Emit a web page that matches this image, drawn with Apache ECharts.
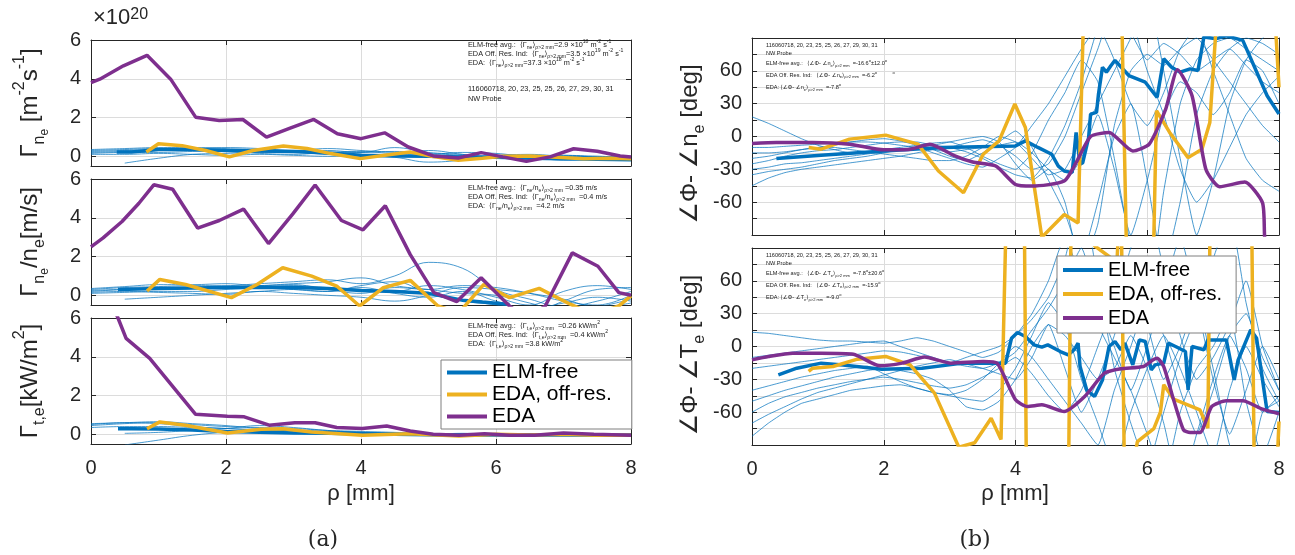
<!DOCTYPE html>
<html><head><meta charset="utf-8">
<script src="https://cdn.jsdelivr.net/npm/echarts@6/dist/echarts.min.js"></script>
<style>html,body{margin:0;padding:0;background:#fff}#c{width:1295px;height:555px}</style>
</head><body><div id="c"></div>
<script>
// ================= DATA =================
const rhoTicks = [0, 2, 4, 6, 8];
const fluxTicks = [0, 2, 4, 6];
const phaseTicks = [-90, -75, -60, -45, -30, -15, 0, 15, 30, 45, 60, 75, 90];
const legendNames = ['ELM-free', 'EDA, off-res.', 'EDA'];

// x grids for the individual (thin) shots
const rhoCoarse = [0,0.5,1,1.5,2,2.5,3,3.5,4,4.5,5,5.5,6,6.5,7,7.5,8];
const rhoFine = [0,0.25,0.5,0.75,1,1.25,1.5,1.75,2,2.25,2.5,2.75,3,3.25,3.5,3.75,4,4.25,4.5,4.75,5,5.25,5.5,5.75,6,6.25,6.5,6.75,7,7.25,7.5,7.75,8];

// ---- (a) top: Gamma_ne [x1e20 m^-2 s^-1]
const a1Thin = [
  [0.3,0.35,0.4,0.4,0.35,0.3,0.25,0.2,0.2,0.25,0.15,0.05,-0.05,-0.1,-0.05,0.0,-0.1],
  [0.25,0.3,0.35,0.4,0.45,0.4,0.3,0.3,0.2,0.45,0.2,0.1,0.0,0.05,-0.1,-0.15,-0.1],
  [0.15,0.2,0.2,0.25,0.3,0.35,0.25,0.15,0.1,0.05,0.0,-0.05,0.05,0.1,0.0,-0.05,-0.15],
  [null,-0.35,-0.1,0.1,0.15,0.2,0.2,0.1,0.05,-0.05,-0.3,-0.2,0.0,-0.05,-0.2,-0.1,0.0],
  [0.35,0.4,0.45,0.45,0.4,0.35,0.3,0.4,0.3,0.2,0.1,0.2,0.15,0.0,0.05,-0.05,-0.2],
  [0.2,0.25,0.3,0.3,0.25,0.15,0.1,0.2,0.25,0.15,0.3,0.1,-0.1,-0.05,0.05,0.0,-0.05],
  [0.1,0.1,0.15,0.1,0.05,0.1,0.05,0.0,0.05,0.1,0.05,0.0,-0.05,0.0,-0.1,-0.1,-0.05]
];
const a1ElmX = [0.38,0.6,0.62,1.0,1.5,2.0,2.5,3.0,3.5,4.0,4.5,5.0,5.5,6.0,6.5,7.0,7.5,8.0];
const a1ElmY = [0.22,0.22,0.32,0.35,0.35,0.3,0.28,0.25,0.17,0.05,0.02,0.0,-0.03,-0.05,-0.1,-0.12,-0.15,-0.18];
const a1OffX = [0.82,1.0,1.35,1.7,2.05,2.4,2.85,3.2,3.55,3.99,4.35,4.73,5.05,5.44,5.8,6.1,6.5,6.9,7.3,7.7,8.0];
const a1OffY = [0.22,0.65,0.55,0.3,-0.03,0.3,0.53,0.4,0.14,-0.12,0.05,0.22,0.0,-0.2,-0.1,0.0,0.02,-0.05,-0.12,-0.1,-0.12];
const a1EdaX = [0,0.13,0.48,0.83,1.18,1.55,1.9,2.25,2.6,2.95,3.3,3.65,4.0,4.35,4.7,5.07,5.44,5.78,6.1,6.45,6.8,7.15,7.5,7.84,8.0];
const a1EdaY = [3.8,3.98,4.67,5.21,3.98,2.02,1.85,1.9,0.99,1.45,1.9,1.16,0.91,1.21,0.48,0.02,-0.09,0.19,-0.03,-0.26,-0.03,0.39,0.26,0.02,-0.03];

// ---- (a) middle: Gamma_ne/n_e [m/s]
const a2Thin = [
  [0.3,0.4,0.45,0.5,0.5,0.6,0.7,0.8,0.6,1.0,1.7,1.4,0.3,-0.2,-0.6,-0.3,0.2],
  [0.2,0.3,0.35,0.4,0.45,0.5,0.6,0.7,0.9,0.5,0.3,0.1,0.0,-0.4,-0.8,-0.6,-0.2],
  [0.1,0.15,0.2,0.2,0.3,0.4,0.5,0.4,0.3,0.2,0.5,0.3,-0.1,-0.5,0.2,0.5,0.3],
  [null,-0.2,-0.1,0.0,0.1,0.2,0.3,0.2,0.4,0.1,-0.1,0.2,-0.3,-0.7,-0.4,-0.1,-0.3],
  [0.35,0.45,0.55,0.55,0.6,0.5,0.55,0.3,0.1,0.4,0.3,0.5,0.4,0.1,-0.3,-0.5,0.0],
  [0.25,0.3,0.3,0.35,0.4,0.45,0.3,0.2,0.5,0.7,0.1,-0.3,-0.5,-0.9,-0.3,0.3,0.4],
  [0.15,0.2,0.15,0.1,0.05,0.2,0.1,0.0,-0.1,-0.3,0.0,0.4,0.3,0.1,-0.2,-0.6,-0.4]
];
const a2ElmX = [0.4,1,1.5,2,2.5,3,3.5,4,4.5,5,5.5,5.8,6.2];
const a2ElmY = [0.3,0.35,0.38,0.4,0.42,0.4,0.35,0.25,0.2,0.1,-0.25,-0.35,-0.48];
const a2OffX = [0.83,1.02,1.4,2.08,2.46,2.84,3.27,3.64,3.98,4.33,4.73,5.14,5.45,5.82,6.2,6.64,7.1,7.45,7.82,8.0];
const a2OffY = [0.22,0.82,0.56,-0.12,0.56,1.42,0.99,0.48,-0.55,0.39,0.77,-0.55,-0.9,0.56,-0.12,0.36,-0.46,-1.0,-0.55,-0.03];
const a2EdaX = [0,0.18,0.46,0.71,0.93,1.21,1.58,1.9,2.26,2.63,2.99,3.32,3.71,4.03,4.36,4.73,5.08,5.42,5.78,6.2,6.45,6.73,7.13,7.51,7.82,8.0];
const a2EdaY = [2.5,2.96,3.81,4.75,5.7,5.47,3.47,3.86,4.45,2.67,4.2,5.69,3.86,3.38,4.62,2.1,0.14,-0.32,0.91,-0.55,-1.2,-0.55,2.19,1.5,0.14,0.0];

// ---- (a) bottom: Gamma_te [kW/m^2]
const a3Thin = [
  [0.45,0.55,0.6,0.5,0.4,0.35,0.3,0.2,0.15,0.1,0.05,0.0,0.0,-0.05,0.0,0.0,-0.05],
  [0.5,0.6,0.55,0.4,0.3,0.25,0.2,0.1,0.05,0.05,0.0,0.0,-0.05,0.0,0.0,-0.05,0.0],
  [null,0.05,0.1,0.2,0.3,0.45,0.35,0.2,0.1,0.05,0.0,-0.05,0.0,0.0,-0.05,0.0,0.0],
  [null,-0.55,-0.3,-0.05,0.1,0.15,0.2,0.15,0.1,0.0,-0.05,0.0,0.0,0.0,-0.05,-0.05,0.0],
  [0.35,0.4,0.4,0.35,0.3,0.2,0.15,0.1,0.05,0.0,0.0,0.05,0.0,-0.05,0.0,0.0,0.0],
  [0.55,0.6,0.65,0.55,0.45,0.3,0.2,0.15,0.1,0.05,0.0,0.0,0.0,0.0,0.0,-0.05,-0.05]
];
const a3ElmX = [0.4,0.6,1.0,1.5,2.0,2.5,3.0,3.5,4.0,4.5,5.0,5.5,6.0,6.5,7.0,7.5,8.0];
const a3ElmY = [0.29,0.29,0.28,0.22,0.15,0.1,0.07,0.05,0.03,0.0,-0.02,-0.03,-0.03,-0.02,-0.03,-0.03,-0.03];
const a3OffX = [0.83,1.02,1.4,2.02,2.52,2.84,3.27,4.02,4.73,5.45,6.0,6.5,7.0,7.5,8.0];
const a3OffY = [0.29,0.64,0.47,0.07,0.26,0.29,0.12,-0.05,0.03,-0.09,0.0,-0.03,0.0,-0.05,-0.05];
const a3EdaX = [0.2,0.4,0.52,0.87,1.55,2.02,2.27,2.64,3.02,3.32,3.64,4.02,4.38,4.73,5.07,5.45,5.83,6.2,6.57,7.0,7.45,8.0];
const a3EdaY = [7.5,6.0,4.95,3.92,1.03,0.93,0.9,0.47,0.6,0.6,0.35,0.3,0.43,0.17,0.0,-0.05,0.03,-0.05,-0.05,0.07,0.0,-0.05];

// ---- (b) top: phase(Phi) - phase(n_e) [deg]
const b1Thin = [
  [-45,-38,-33,-30,-28,-26,-24,-22,-20,-18,-15,-12,-10,-6,-3,-8,-18,-30,-25,0,40,80,120,95,70,85,75,60,70,80,65,50,40],
  [-30,-28,-25,-24,-22,-20,-18,-16,-14,-12,-10,-8,-5,-2,0,-5,-25,-40,-30,-60,-120,-80,10,60,75,65,80,90,70,50,30,10,-5],
  [-25,-22,-18,-15,-13,-12,-10,-8,-6,-5,-5,-8,-10,-14,-20,-28,-35,-38,-20,10,50,100,140,110,60,20,-30,-60,-40,-10,20,40,55],
  [18,12,5,-2,-8,-12,-15,-15,-12,-10,-8,-6,-5,-10,-18,-25,-30,-15,15,40,70,50,-20,-100,-150,-50,30,70,85,90,80,70,60],
  [-15,-15,-14,-12,-10,-8,-5,-3,-2,-4,-8,-12,-18,-22,-15,-5,5,-10,-40,-70,-110,-60,0,30,-40,-120,-60,20,60,80,90,85,75],
  [-35,-32,-30,-28,-25,-22,-20,-18,-15,-12,-10,-15,-20,-25,-28,-20,-10,10,30,55,80,100,70,30,10,40,80,100,60,20,-20,-40,-50],
  [-20,-18,-15,-12,-10,-10,-12,-14,-16,-18,-20,-22,-22,-18,-10,0,-5,-20,-35,-30,0,30,60,90,130,60,-20,-90,-40,30,70,90,100],
  [-10,-10,-9,-8,-7,-6,-5,-5,-6,-8,-10,-12,-14,-12,-10,-8,-5,-15,-30,-40,-20,20,-30,-90,-40,20,50,40,20,40,70,60,30]
];
const b1ElmX = [0.37,1.05,2.0,2.89,4.0,4.15,4.34,4.55,4.65,4.74,4.86,4.92,4.98,5.02,5.11,5.14,5.23,5.26,5.32,5.38,5.45,5.51,5.72,5.97,6.15,6.25,6.37,6.5,6.65,6.77,6.86,7.05,7.2,7.45,7.82,8.0];
const b1ElmY = [-20.2,-17.1,-13.2,-10,-8.6,-4,-10,-16.2,-27,-31.5,-33,3.7,-25.4,-24,-1,20.5,22,38.9,63.3,58.8,64.9,69.5,55.7,49.6,35.8,71,63.3,58.8,61.8,60.3,91,89.4,92,87.8,37.3,20.5];
const b1OffX = [0.86,1.05,1.48,2.03,2.52,2.83,3.21,3.51,3.75,3.99,4.15,4.4,4.74,4.95,5.05,5.6,5.7,6.08,6.14,6.34,6.62,6.83,6.95,7.1,7.9,8.0];
const b1OffY = [-10,-11.6,-2.4,1.2,-7,-31.5,-51.4,-16.2,-4,29.7,8.3,-92,-71.3,-79,150,150,-150,-150,23.6,3.7,-19.3,-11.6,12.9,150,150,45];
const b1EdaX = [0,0.37,0.92,1.48,2.0,2.4,2.7,3.08,3.35,3.7,4.0,4.25,4.74,4.92,5.14,5.42,5.78,6.03,6.28,6.46,6.68,6.89,7.1,7.48,7.75,7.78,7.82];
const b1EdaY = [-6.4,-5.5,-5.5,-7,-12.2,-11.6,-7,-17.7,-23.3,-27,-43.8,-45.3,-40.7,-23.9,0,3.7,-13.2,-7,25.1,60.9,37.3,-30,-45.9,-41.6,-60.6,-89.7,-130];

// ---- (b) bottom: phase(Phi) - phase(T_e) [deg]
const b2Thin = [
  [13,12,10,8,6,5,5,4,3,5,8,5,0,-5,-10,-5,10,30,60,100,60,20,-10,-40,-80,-120,-60,-20,0,30,-50,-100,-60],
  [-82,-70,-60,-52,-48,-44,-40,-38,-36,-35,-38,-42,-45,-48,-50,-40,-20,10,40,20,-30,-70,-110,-60,-20,10,-20,-60,-100,-40,0,-30,-55],
  [-60,-52,-46,-42,-38,-35,-32,-30,-28,-30,-33,-36,-38,-35,-28,-20,-10,-25,-45,-60,-40,0,40,90,130,70,10,-30,-10,20,60,0,-40],
  [-50,-45,-40,-36,-32,-28,-25,-22,-20,-22,-25,-30,-40,-55,-58,-50,-30,0,20,10,-10,-30,-20,10,-20,-70,-130,-80,-30,10,-20,-60,-45],
  [-20,-18,-16,-14,-12,-10,-8,-6,-4,-5,-8,-12,-15,-10,-5,0,10,25,45,80,140,60,-20,-70,-110,-60,-10,30,80,120,40,-20,-50],
  [-40,-36,-32,-28,-25,-22,-20,-18,-25,-32,-38,-42,-44,-40,-30,-15,0,-10,-30,-50,-70,-90,-40,0,40,10,-40,-80,-40,10,30,-10,-40],
  [-10,-8,-6,-4,-2,0,2,4,5,0,-5,-10,-15,-18,-20,-15,-5,15,35,60,90,40,0,-40,0,50,100,40,-30,-80,-40,0,-30],
  [-70,-62,-55,-48,-42,-38,-34,-30,-26,-22,-18,-15,-12,-16,-20,-25,-30,-10,20,-20,-60,-30,10,60,20,-30,0,40,-20,-90,-120,-60,-50]
];
const b2ElmX = [0.4,0.68,1.05,1.38,1.97,2.58,3.2,3.85,3.94,4.03,4.15,4.28,4.4,4.49,4.68,4.8,4.89,4.95,4.98,5.08,5.2,5.32,5.42,5.51,5.6,5.66,5.78,5.88,5.97,6.06,6.12,6.25,6.32,6.43,6.58,6.62,6.68,6.86,6.92,7.2,7.32,7.38,7.57,7.66,7.72,7.82,8.0];
const b2ElmY = [-25.9,-19.8,-15.2,-16.8,-20.7,-19.8,-15.2,-15.2,7.6,12.8,9.1,1.5,-0.6,1.5,-4.6,-7.6,-3,3,-18.3,-39.6,-45.7,-30.5,0,4.6,-3,3,-16.8,6.1,4.6,-21.3,-16.8,-15.2,3,0,-4.6,-39.6,0,-3,6,6,-30.5,-12.2,15.2,7.6,-18.3,-59.4,-60.3];
const b2OffX = [0.86,0.92,1.23,1.6,2.03,2.4,2.77,3.14,3.38,3.63,3.78,3.87,4.13,4.17,4.8,4.85,5.2,5.54,5.6,5.66,5.85,6.1,6.2,6.25,6.4,6.8,6.92,6.96,7.58,7.63,7.94,8.0];
const b2OffY = [-22.8,-19.8,-18.3,-11.6,-9.1,-16.8,-42.6,-92,-88,-65.5,-85,150,150,-150,-150,150,92,77,150,-150,-87,-75,-60,-35,-48,-58,-74.6,150,150,-150,-150,-68.5];
const b2EdaX = [0,0.25,0.62,1.05,1.54,1.94,2.28,2.62,3.02,3.51,3.72,4.0,4.18,4.4,4.74,5.05,5.35,5.6,5.94,6.09,6.15,6.25,6.4,6.55,6.65,6.8,6.98,7.2,7.45,7.75,8.0];
const b2EdaY = [-12.2,-9.1,-6.1,-6.1,-7,-17.7,-15.2,-9.7,-15.2,-13.7,-15.2,-48.7,-54.8,-53.3,-59.4,-45.7,-24.4,-20.4,-18.3,-12.2,-10.7,-18.3,-48.7,-76.2,-78.6,-78.6,-54.8,-49.6,-49.6,-57.3,-61.5];

// ================= CHART =================
const FONT = "'Liberation Sans', 'DejaVu Sans', Arial, sans-serif";
const BLUE = '#0072BD', ORANGE = '#EDB120', PURPLE = '#7E2F8E', AX = '#262626', GRIDC = '#dcdcdc';

const grids = [
  {left: 91, top: 40, width: 540, height: 126},
  {left: 91, top: 179, width: 540, height: 126},
  {left: 91, top: 318, width: 540, height: 126},
  {left: 752, top: 38, width: 527, height: 197},
  {left: 752, top: 248, width: 527, height: 197}
].map(g => Object.assign({containLabel: false, outerBoundsMode: 'none', show: false}, g));

const xAxis = [], yAxis = [];
const axLine = {show: true, onZero: false, lineStyle: {color: AX, width: 1}};
grids.forEach((g, gi) => {
  const showX = (gi === 2 || gi === 4);
  const xb = {type: 'value', gridIndex: gi, min: 0, max: 8, interval: 2};
  xAxis.push(Object.assign({}, xb, {position: 'bottom', axisLine: axLine,
    axisTick: {show: true, inside: true, length: 5, lineStyle: {color: AX}},
    axisLabel: {show: showX, fontSize: 20, color: AX, fontFamily: FONT, margin: 14},
    splitLine: {show: true, lineStyle: {color: GRIDC, width: 1}}}));
  xAxis.push(Object.assign({}, xb, {position: 'top', axisLine: axLine,
    axisTick: {show: true, inside: true, length: 5, lineStyle: {color: AX}},
    axisLabel: {show: false}, splitLine: {show: false}}));
  if (gi < 3) {
    const yb = {type: 'value', gridIndex: gi, min: -0.5, max: 6};
    yAxis.push(Object.assign({}, yb, {position: 'left', axisLine: axLine,
      axisTick: {show: true, inside: true, length: 5, lineStyle: {color: AX}, customValues: fluxTicks},
      axisLabel: {show: true, fontSize: 20, color: AX, fontFamily: FONT, margin: 10, customValues: fluxTicks},
      splitLine: {show: true, lineStyle: {color: GRIDC, width: 1}}}));
    yAxis.push(Object.assign({}, yb, {position: 'right', axisLine: axLine,
      axisTick: {show: true, inside: true, length: 5, lineStyle: {color: AX}, customValues: fluxTicks},
      axisLabel: {show: false}, splitLine: {show: false}}));
  } else {
    const yb = {type: 'value', gridIndex: gi, min: -90, max: 90, interval: 15};
    yAxis.push(Object.assign({}, yb, {position: 'left', axisLine: axLine,
      axisTick: {show: true, inside: true, length: 5, lineStyle: {color: AX}},
      axisLabel: {show: true, fontSize: 20, color: AX, fontFamily: FONT, margin: 10,
        showMinLabel: false, showMaxLabel: false,
        formatter: v => (v % 30 === 0 && Math.abs(v) < 90) ? String(v) : ''},
      splitLine: {show: true, lineStyle: {color: GRIDC, width: 1}}}));
    yAxis.push(Object.assign({}, yb, {position: 'right', axisLine: axLine,
      axisTick: {show: true, inside: true, length: 5, lineStyle: {color: AX}},
      axisLabel: {show: false}, splitLine: {show: false}}));
  }
});

function mk(gi, xs, ys, color, width, name, z, smooth, opacity) {
  return {type: 'line', name: name, xAxisIndex: 2 * gi, yAxisIndex: 2 * gi,
    data: xs.map((x, i) => [x, ys[i] === null ? '-' : ys[i]]),
    showSymbol: false, symbol: 'none', smooth: smooth || false, silent: true,
    connectNulls: false, clip: true, z: z, animation: false,
    lineStyle: {color: color, width: width, opacity: opacity == null ? 1 : opacity},
    itemStyle: {color: color}};
}

const series = [];
const panels = [
  {gi: 0, thin: a1Thin, tx: rhoCoarse, elm: [a1ElmX, a1ElmY], off: [a1OffX, a1OffY], eda: [a1EdaX, a1EdaY], sm: 0, tsm: 0.4},
  {gi: 1, thin: a2Thin, tx: rhoCoarse, elm: [a2ElmX, a2ElmY], off: [a2OffX, a2OffY], eda: [a2EdaX, a2EdaY], sm: 0, tsm: 0.4},
  {gi: 2, thin: a3Thin, tx: rhoCoarse, elm: [a3ElmX, a3ElmY], off: [a3OffX, a3OffY], eda: [a3EdaX, a3EdaY], sm: 0, tsm: 0.4},
  {gi: 3, thin: b1Thin, tx: rhoFine, elm: [b1ElmX, b1ElmY], off: [b1OffX, b1OffY], eda: [b1EdaX, b1EdaY], sm: 0.2, tsm: 0.15},
  {gi: 4, thin: b2Thin, tx: rhoFine, elm: [b2ElmX, b2ElmY], off: [b2OffX, b2OffY], eda: [b2EdaX, b2EdaY], sm: 0.2, tsm: 0.15}
];
panels.forEach(p => {
  p.thin.forEach(ys => series.push(mk(p.gi, p.tx, ys, BLUE, 0.8, undefined, 2, p.tsm, 0.9)));
  series.push(mk(p.gi, p.elm[0], p.elm[1], BLUE, 3.5, legendNames[0], 3, false));
  series.push(mk(p.gi, p.off[0], p.off[1], ORANGE, 3.5, legendNames[1], 4, false));
  series.push(mk(p.gi, p.eda[0], p.eda[1], PURPLE, 3.5, legendNames[2], 5, p.sm));
});

// ---------- text ----------
const richBig = {
  s: {fontSize: 16, lineHeight: 16, verticalAlign: 'bottom', fontFamily: FONT, fill: AX},
  ss: {fontSize: 12, lineHeight: 10, verticalAlign: 'bottom', fontFamily: FONT, fill: AX, padding: [0, 0, -3, 0]},
  p: {fontSize: 16, lineHeight: 16, verticalAlign: 'top', fontFamily: FONT, fill: AX}
};
function ylab(x, y, text) {
  return {type: 'text', x: x, y: y, rotation: Math.PI / 2, silent: true, z: 10,
    style: {text: text, fontSize: 24, lineHeight: 36, fontFamily: FONT, fill: AX,
      align: 'center', verticalAlign: 'middle', rich: richBig}};
}
function plain(x, y, text, size, family, align) {
  return {type: 'text', x: x, y: y, silent: true, z: 10,
    style: {text: text, fontSize: size, fontFamily: family || FONT, fill: AX,
      align: align || 'center', verticalAlign: 'middle', rich: richBig}};
}
function ann(x, y, text, size) {
  const sub = Math.max(4, size * 0.7);
  return {type: 'text', x: x, y: y, silent: true, z: 10,
    style: {text: text, fontSize: size, lineHeight: size * 1.5, fontFamily: FONT, fill: '#1a1a1a',
      align: 'left', verticalAlign: 'middle',
      rich: {
        s: {fontSize: sub, lineHeight: sub, verticalAlign: 'bottom', fontFamily: FONT, fill: '#1a1a1a'},
        p: {fontSize: sub, lineHeight: sub, verticalAlign: 'top', fontFamily: FONT, fill: '#1a1a1a'}
      }}};
}

const shots = '116060718, 20, 23, 25, 25, 26, 27, 29, 30, 31';
const graphics = [
  plain(93, 18, '×10{p|20}', 22, FONT, 'left'),
  ylab(30, 103, 'Γ{s|n}{ss|e} [m{p|-2}s{p|-1}]'),
  ylab(30, 242, 'Γ{s|n}{ss|e}/n{s|e}[m/s]'),
  ylab(30, 381, 'Γ{s|t,e}[kW/m{p|2}]'),
  ylab(690, 144, '∠Φ- ∠n{s|e} [deg]'),
  ylab(690, 355, '∠Φ- ∠T{s|e} [deg]'),
  plain(361, 494, 'ρ [mm]', 22),
  plain(1015, 494, 'ρ [mm]', 22),
  plain(323, 540, '(a)', 22, "'DejaVu Serif', 'Liberation Serif', serif"),
  plain(975, 540, '(b)', 22, "'DejaVu Serif', 'Liberation Serif', serif"),
  // (a) top annotations
  ann(468, 45, 'ELM-free avg.:  ⟨Γ{s|ne}⟩{s|ρ>2 mm}=2.9 ×10{p|18} m{p|-2} s{p|-1}', 7.3),
  ann(468, 54, 'EDA Off. Res. Ind:  ⟨Γ{s|ne}⟩{s|ρ>2 mm}=3.5 ×10{p|19} m{p|-2} s{p|-1}', 7.3),
  ann(468, 63, 'EDA:  ⟨Γ{s|ne}⟩{s|ρ>2 mm}=37.3 ×10{p|18} m{p|-2} s{p|-1}', 7.3),
  ann(468, 89, shots, 7.3),
  ann(468, 99, 'NW Probe', 7.3),
  // (a) middle
  ann(468, 188, 'ELM-free avg.:  ⟨Γ{s|ne}/n{s|e}⟩{s|ρ>2 mm} =0.35 m/s', 7.3),
  ann(468, 197, 'EDA Off. Res. Ind:  ⟨Γ{s|ne}/n{s|e}⟩{s|ρ>2 mm}  =0.4 m/s', 7.3),
  ann(468, 206, 'EDA:  ⟨Γ{s|ne}/n{s|e}⟩{s|ρ>2 mm}  =4.2 m/s', 7.3),
  // (a) bottom
  ann(468, 326, 'ELM-free avg.:  ⟨Γ{s|t,e}⟩{s|ρ>2 mm}  =0.26 kW/m{p|2}', 7.3),
  ann(468, 335, 'EDA Off. Res. Ind:  ⟨Γ{s|t,e}⟩{s|ρ>2 mm}  =0.4 kW/m{p|2}', 7.3),
  ann(468, 344, 'EDA:  ⟨Γ{s|t,e}⟩{s|ρ>2 mm} =3.8 kW/m{p|2}', 7.3),
  // (b) top
  ann(766, 45, shots, 5.6),
  ann(766, 53.5, 'NW Probe', 5.6),
  ann(766, 63.5, 'ELM-free avg.:   ⟨∠Φ- ∠n{s|e}⟩{s|ρ>2 mm}  =-16.6{p|o}±12.0{p|o}', 5.6),
  ann(766, 75, 'EDA Off. Res. Ind:   ⟨∠Φ- ∠n{s|e}⟩{s|ρ>2 mm}  =-6.2{p|o}          {p|o}', 5.6),
  ann(766, 87.5, 'EDA: ⟨∠Φ- ∠n{s|e}⟩{s|ρ>2 mm}  =-7.8{p|o}', 5.6),
  // (b) bottom
  ann(766, 255, shots, 5.6),
  ann(766, 263.5, 'NW Probe', 5.6),
  ann(766, 273.5, 'ELM-free avg.:   ⟨∠Φ- ∠T{s|e}⟩{s|ρ>2 mm}  =-7.8{p|o}±20.6{p|o}', 5.6),
  ann(766, 285, 'EDA Off. Res. Ind:   ⟨∠Φ- ∠T{s|e}⟩{s|ρ>2 mm}  =-15.9{p|o}', 5.6),
  ann(766, 297.5, 'EDA: ⟨∠Φ- ∠T{s|e}⟩{s|ρ>2 mm}  =-9.0{p|o}', 5.6)
];

const legendBase = {orient: 'vertical', data: legendNames, icon: 'rect', itemWidth: 40, itemHeight: 4,
  backgroundColor: '#ffffff', borderColor: '#7f7f7f', borderWidth: 1, borderRadius: 0,
  selectedMode: false, textStyle: {fontSize: 20, color: '#000', fontFamily: FONT}, z: 20};

const option = {
  animation: false,
  backgroundColor: '#ffffff',
  grid: grids,
  xAxis: xAxis,
  yAxis: yAxis,
  legend: [
    Object.assign({}, legendBase, {left: 441, top: 360, itemGap: 1, padding: [2, 20, 2, 6],
      textStyle: {fontSize: 21, color: '#000', fontFamily: FONT}}),
    Object.assign({}, legendBase, {left: 1057, top: 256, itemGap: 4, padding: [4, 14, 5, 6]})
  ],
  series: series,
  graphic: {elements: graphics}
};

const chart = echarts.init(document.getElementById('c'), null, {renderer: 'canvas', width: 1295, height: 555});
chart.setOption(option);
</script>
</body></html>
